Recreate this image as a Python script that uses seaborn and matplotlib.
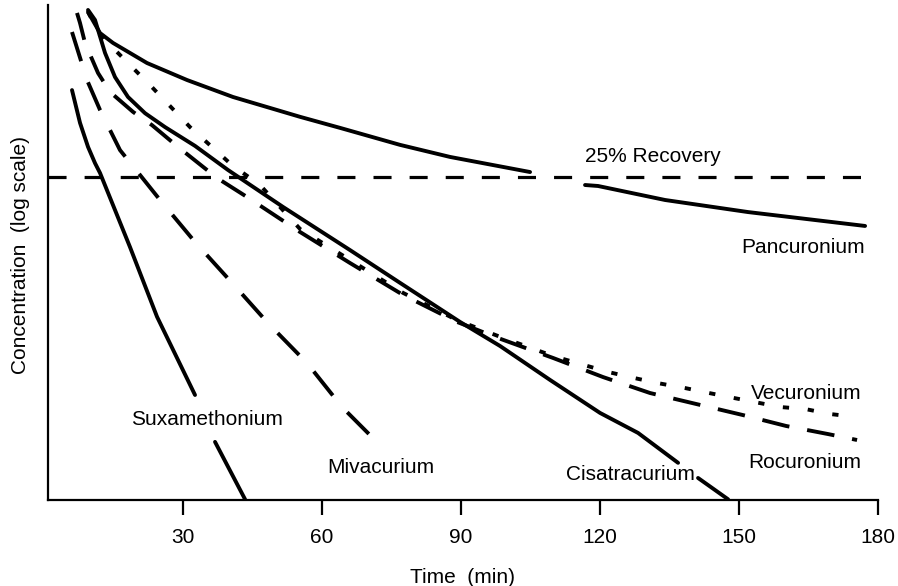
import matplotlib
matplotlib.use("Agg")
import matplotlib.pyplot as plt
from matplotlib.ticker import NullLocator
import seaborn as sns

# ---------------- data (time in min, concentration on log scale) ----------------
pan_t = [9.50, 12.09, 14.89, 22.23, 30.87, 40.79, 55.26, 63.89, 76.84, 87.63, 104.90,
         116.77, 119.58, 134.04, 151.95, 177.21]
pan_c = [907, 676, 589, 445, 351, 277, 210, 180, 142, 120, 97.2,
         81.1, 80.0, 65.8, 55.6, 45.8]
pan_seg = [0, 0, 0, 0, 0, 0, 0, 0, 0, 0, 0, 1, 1, 1, 1, 1]

sux_t = [6.04, 7.77, 9.50, 11.01, 12.09, 18.56, 24.39, 32.59, 36.91, 43.39]
sux_c = [305, 193, 138, 110, 95.9, 34.1, 12.9, 4.33, 2.25, 1.01]
sux_seg = [0, 0, 0, 0, 0, 0, 0, 0, 1, 1]

miv_t = [6.04, 9.28, 12.09, 16.40, 20.72, 25.04, 32.59, 40.58, 48.35, 56.77, 64.32, 72.52]
miv_c = [686, 351, 231, 132, 93.3, 65.8, 36.6, 20.7, 11.8, 6.76, 3.66, 2.15]

cis_t = [9.50, 11.01, 13.17, 15.32, 18.13, 21.80, 26.12, 32.59, 39.71, 51.59, 66.05,
         76.84, 89.79, 98.42, 109.22, 120.01, 128.21, 136.85, 141.16, 147.64]
cis_c = [933, 811, 512, 366, 277, 221, 182, 140, 100, 59.7, 32.7,
         20.7, 12.0, 8.58, 5.34, 3.37, 2.55, 1.68, 1.36, 1.01]
cis_seg = [0] * 18 + [1, 1]

roc_t = [7.12, 7.77, 8.85, 11.66, 14.25, 19.21, 23.31, 28.92, 37.34, 43.82, 55.26, 66.05,
         77.49, 89.14, 97.99, 109.86, 120.66, 130.80, 140.73, 150.88, 160.16, 169.22, 175.48]
roc_c = [895, 778, 589, 387, 297, 225, 187, 138, 89.5, 68.6, 42.1, 27.3,
         17.5, 12.0, 9.59, 7.26, 5.56, 4.45, 3.82, 3.27, 2.81, 2.51, 2.31]

vec_t = [9.50, 12.09, 14.89, 18.13, 22.88, 27.20, 31.51, 36.48, 40.58, 46.62, 55.26, 66.05,
         77.49, 89.14, 97.99, 109.86, 121.74, 127.35, 132.31, 138.36, 143.54, 148.94,
         158.87, 164.27, 169.66, 175.48]
vec_c = [907, 658, 549, 445, 327, 244, 182, 136, 107, 81.1, 43.9, 28.5,
         18.0, 12.3, 9.86, 7.46, 5.97, 5.49, 5.12, 4.77, 4.45, 4.15,
         3.66, 3.56, 3.32, 3.18]

recovery_t = [0.86, 177.2]
recovery_c = [91, 91]

xticks = [30, 60, 90, 120, 150, 180]
xtick_labels = ["30", "60", "90", "120", "150", "180"]

# ---------------- style ----------------
sns.set_theme(style="ticks")
plt.rcParams["font.family"] = ["Liberation Sans", "DejaVu Sans"]
plt.rcParams["text.color"] = "black"
plt.rcParams["axes.labelcolor"] = "black"
plt.rcParams["xtick.color"] = "black"
plt.rcParams["lines.scale_dashes"] = False
plt.rcParams["lines.solid_capstyle"] = "round"
plt.rcParams["lines.solid_joinstyle"] = "round"

fig = plt.figure(figsize=(8.98, 5.86), dpi=100)
fig.patch.set_facecolor("white")
ax = fig.add_axes([48 / 898, 86 / 586, 830 / 898, 495 / 586])
ax.set_facecolor("white")
ax.set_yscale("log")

LW = 2.8
common = dict(ax=ax, color="black", linewidth=LW, estimator=None, legend=False)

sns.lineplot(x=recovery_t, y=recovery_c, linestyle=(0, (13, 13)), linewidth=2.3,
             color="black", ax=ax, legend=False)
sns.lineplot(x=pan_t, y=pan_c, units=pan_seg, **common)
sns.lineplot(x=sux_t, y=sux_c, units=sux_seg, **common)
sns.lineplot(x=miv_t, y=miv_c, linestyle=(0, (22, 16)), **common)
sns.lineplot(x=cis_t, y=cis_c, units=cis_seg, **common)
sns.lineplot(x=roc_t, y=roc_c, linestyle=(0, (20, 13)), **common)
sns.lineplot(x=vec_t, y=vec_c, linestyle=(0, (4.5, 13.5)), **common)

# ---------------- labels ----------------
fs = 15
tc = "black"
ax.text(116.8, 112, "25% Recovery", fontsize=fs, ha="left", va="baseline", color=tc)
ax.text(177.2, 31.5, "Pancuronium", fontsize=fs, ha="right", va="baseline", color=tc)
ax.text(176.4, 4.09, "Vecuronium", fontsize=fs, ha="right", va="baseline", color=tc)
ax.text(176.4, 1.56, "Rocuronium", fontsize=fs, ha="right", va="baseline", color=tc)
ax.text(140.5, 1.32, "Cisatracurium", fontsize=fs, ha="right", va="baseline", color=tc)
ax.text(61.1, 1.458, "Mivacurium", fontsize=fs, ha="left", va="baseline", color=tc)
ax.text(18.8, 2.85, "Suxamethonium", fontsize=fs, ha="left", va="baseline", color=tc)

# ---------------- axes ----------------
ax.set_xlim(0.86, 180)
ax.set_ylim(1, 1000)
ax.set_xticks(xticks)
ax.set_xticklabels(xtick_labels)
ax.yaxis.set_minor_locator(NullLocator())
ax.set_yticks([])
ax.tick_params(axis="x", which="major", length=11, width=1.6, direction="out",
               pad=9, labelsize=fs, colors="black", labelcolor="black")
ax.tick_params(axis="y", which="both", left=False, labelleft=False)
ax.xaxis.set_minor_locator(NullLocator())

for side in ["top", "right"]:
    ax.spines[side].set_visible(False)
for side in ["left", "bottom"]:
    ax.spines[side].set_linewidth(1.6)
    ax.spines[side].set_color("black")

ax.set_xlabel("Time  (min)", fontsize=fs, labelpad=15, color="black")
ax.set_ylabel("Concentration  (log scale)", fontsize=fs, color="black")
ax.yaxis.set_label_coords(-0.022, 0.495)

fig.savefig("out.png", dpi=100, facecolor="white")
